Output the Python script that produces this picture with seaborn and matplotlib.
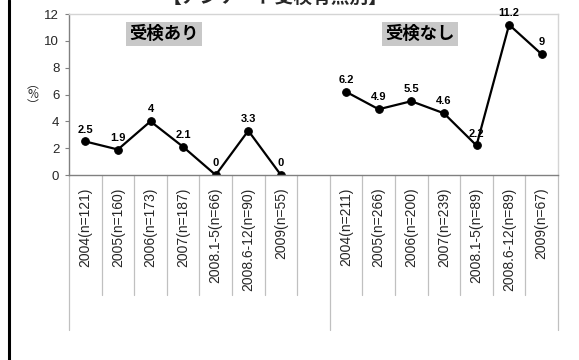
import matplotlib
matplotlib.use("Agg")
import matplotlib.pyplot as plt
from matplotlib.lines import Line2D
import seaborn as sns
import pandas as pd

# Data: positive rate (%) by period, split by screening status
periods_with = ["2004(n=121)", "2005(n=160)", "2006(n=173)", "2007(n=187)",
                "2008.1-5(n=66)", "2008.6-12(n=90)", "2009(n=55)"]
rates_with = [2.5, 1.9, 4, 2.1, 0, 3.3, 0]

periods_without = ["2004(n=211)", "2005(n=266)", "2006(n=200)", "2007(n=239)",
                   "2008.1-5(n=89)", "2008.6-12(n=89)", "2009(n=67)"]
rates_without = [6.2, 4.9, 5.5, 4.6, 2.2, 11.2, 9]

group_names = ["受検あり", "受検なし"]
title_text = "【アンケート受検有無別】"

sns.set_theme(style="white")
plt.rcParams["font.family"] = ["Liberation Sans", "Noto Sans CJK JP", "DejaVu Sans"]

# Build a long table; the second group is placed after one empty slot
n1 = len(periods_with)
pos_with = list(range(n1))
pos_without = [n1 + 1 + i for i in range(len(periods_without))]
df = pd.DataFrame({
    "pos": pos_with + pos_without,
    "rate": rates_with + rates_without,
    "group": [group_names[0]] * n1 + [group_names[1]] * len(periods_without),
})
n_slots = pos_without[-1] + 1

W, H = 579, 360
fig = plt.figure(figsize=(W / 100, H / 100), dpi=100)
ax = fig.add_axes([69 / W, 1 - 175 / H, (558 - 69) / W, (175 - 14) / H])

sns.lineplot(data=df, x="pos", y="rate", hue="group",
             palette=["black", "black"], marker="o", markersize=5.5,
             markeredgecolor="black", linewidth=1.6, legend=False, ax=ax)

# Value labels
for x, y in zip(df["pos"], df["rate"]):
    ax.annotate(f"{y:g}", (x, y), xytext=(0, 5), textcoords="offset points",
                ha="center", va="bottom", fontsize=8, fontweight="bold",
                color="black")

ax.set_xlim(-0.5, n_slots - 0.5)
ax.set_ylim(0, 12)
ax.set_yticks(range(0, 13, 2))
ax.tick_params(axis="y", labelsize=9.5, length=3, width=0.8, color="#808080",
               direction="out", left=True, pad=4)
ax.set_xticks(pos_with + pos_without)
ax.set_xticklabels(periods_with + periods_without, rotation=90, fontsize=10)
ax.tick_params(axis="x", length=0, pad=9)
for lbl in ax.get_xticklabels():
    lbl.set_va("top")
ax.set_xlabel("")
ax.set_ylabel("")

for side in ("left", "bottom"):
    ax.spines[side].set_color("#808080")
    ax.spines[side].set_linewidth(1.0)
for side in ("top", "right"):
    ax.spines[side].set_color("#d4d4d4")
    ax.spines[side].set_linewidth(1.0)

# Category dividers below the axis (multi-level category style)
trans = ax.get_xaxis_transform()
short_end = -(295 - 175) / 161
long_end = -(330 - 175) / 161
long_bounds = {-0.5, n1 + 0.5, n_slots - 0.5}
for k in range(n_slots + 1):
    b = k - 0.5
    end = long_end if b in long_bounds else short_end
    ax.plot([b, b], [0, end], transform=trans, color="#c0c0c0",
            linewidth=0.9, clip_on=False, zorder=0)

# Group labels
for xf, name in zip([(164 - 69) / 489, (420 - 69) / 489], group_names):
    ax.text(xf, (175 - 34) / 161, name, transform=ax.transAxes,
            ha="center", va="center", fontsize=12.5, fontweight="bold",
            family=["Noto Sans CJK JP"], color="black",
            bbox=dict(facecolor="#c8c8c8", edgecolor="none",
                      boxstyle="square,pad=0.2"))

# Vertical unit label
fig.text(33 / W, 1 - 95 / H, "︵\n%\n︶", ha="center", va="center",
         fontsize=8.5, linespacing=0.75, family=["Noto Sans CJK JP", "DejaVu Sans"])

# Title (partly beyond the top edge)
fig.text(275 / W, 1 - 7 / H, title_text, ha="center", va="bottom",
         fontsize=13.5, fontweight="bold", family=["Noto Sans CJK JP"])

# Left border of the frame
fig.add_artist(Line2D([8.5 / W, 8.5 / W], [0, 1], transform=fig.transFigure,
                      color="black", linewidth=2.2))

fig.savefig("out.png", dpi=100)
